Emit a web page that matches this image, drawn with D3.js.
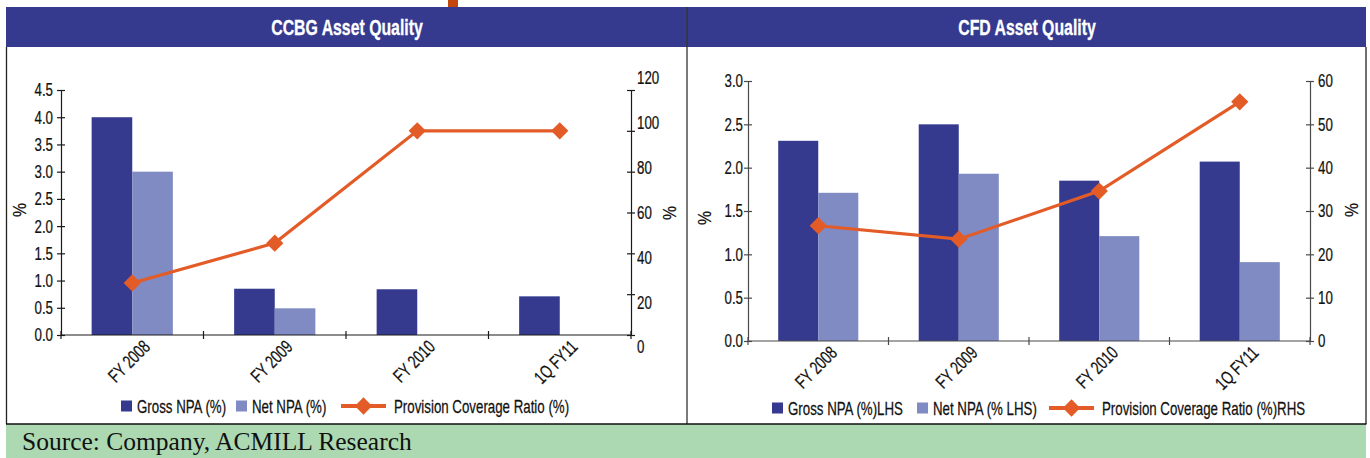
<!DOCTYPE html>
<html>
<head>
<meta charset="utf-8">
<script src="https://cdn.jsdelivr.net/npm/d3@7"></script>
<style>
  html, body { margin: 0; padding: 0; background: #ffffff; }
  svg { display: block; }
</style>
</head>
<body>
<svg id="chart" width="1370" height="458"></svg>
<script>
// Periods shown on both charts
const categories = ["FY 2008", "FY 2009", "FY 2010", "1Q FY11"];

// CCBG asset quality
const ccbgGrossNpa = [4.0, 0.85, 0.84, 0.71];
const ccbgNetNpa = [3.0, 0.49, null, null];
const ccbgCoverage = [25.5, 45, 100, 100];
const ccbgLeftTicks = [0, 0.5, 1, 1.5, 2, 2.5, 3, 3.5, 4, 4.5];
const ccbgRightTicks = [0, 20, 40, 60, 80, 100, 120];

// CFD asset quality
const cfdGrossNpa = [2.31, 2.50, 1.85, 2.07];
const cfdNetNpa = [1.71, 1.93, 1.21, 0.91];
const cfdCoverage = [26.6, 23.5, 34.6, 55.2];
const cfdLeftTicks = [0, 0.5, 1, 1.5, 2, 2.5, 3];
const cfdRightTicks = [0, 10, 20, 30, 40, 50, 60];

const COLORS = {
  navy: "#353a8f",
  gross: "#353a8f",
  net: "#7f8bc2",
  line: "#e35b27",
  green: "#acd9b2",
  tab: "#c4470f"
};
// condensed look: regular sans squeezed horizontally
const FONT = "'Liberation Sans', Arial, sans-serif";
const SX = 0.76;      // legend text
const FS = 17.5;
const TSX = 0.72;     // tick and category text
const TFS = 18.5;

const svg = d3.select("#chart");

// text helper: places a horizontally condensed label
function label(parent, x, y, str, opts = {}) {
  const rot = opts.rotate ? ` rotate(${opts.rotate})` : "";
  const fill = opts.fill || "#111";
  return parent.append("text")
    .attr("transform", `translate(${x},${y})${rot} scale(${opts.sx || SX},1)`)
    .attr("text-anchor", opts.anchor || "start")
    .attr("font-family", FONT)
    .attr("font-weight", opts.weight || "normal")
    .attr("font-size", opts.size || FS)
    .attr("fill", fill)
    .attr("stroke", fill).attr("stroke-width", opts.weight === "bold" ? 0.3 : 0.25)
    .attr("dominant-baseline", opts.baseline || "auto")
    .text(str);
}

// ---- frame: orange tab, title band, borders, source strip ----
svg.append("rect").attr("x", 448).attr("y", 0).attr("width", 10).attr("height", 7).attr("fill", COLORS.tab);
svg.append("rect").attr("x", 6).attr("y", 7).attr("width", 1360).attr("height", 40).attr("fill", COLORS.navy);
svg.append("rect").attr("x", 6).attr("y", 424).attr("width", 1360).attr("height", 34).attr("fill", COLORS.green);

const frame = svg.append("g").attr("stroke-width", 1.3).attr("fill", "none");
frame.append("line").attr("x1", 6.5).attr("x2", 6.5).attr("y1", 47).attr("y2", 424).attr("stroke", "#222");
frame.append("line").attr("x1", 687).attr("x2", 687).attr("y1", 7).attr("y2", 424).attr("stroke", "#333");
frame.append("line").attr("x1", 1366).attr("x2", 1366).attr("y1", 47).attr("y2", 424).attr("stroke", "#222");
frame.append("line").attr("x1", 6).attr("x2", 1366.5).attr("y1", 424).attr("y2", 424).attr("stroke", "#111");

svg.append("text")
  .attr("x", 22).attr("y", 450)
  .attr("font-family", "'Liberation Serif', 'Times New Roman', serif")
  .attr("font-size", 25.5).attr("fill", "#111")
  .text("Source: Company, ACMILL Research");

label(svg, 347, 35, "CCBG Asset Quality", { anchor: "middle", weight: "bold", size: 22, sx: 0.72, fill: "#fff" });
label(svg, 1027, 35, "CFD Asset Quality", { anchor: "middle", weight: "bold", size: 22, sx: 0.72, fill: "#fff" });

// ---- one combined bar + line chart ----
function drawPanel(cfg) {
  const g = svg.append("g");

  const x = d3.scaleBand().domain(categories).range([cfg.x0, cfg.x1]).padding(0);
  const yL = d3.scaleLinear().domain([0, cfg.leftMax]).range([cfg.yBottom, cfg.yTop]);
  const yR = d3.scaleLinear().domain([0, cfg.rightMax]).range([cfg.yBottom, cfg.yTop]);
  const yRLabel = d3.scaleLinear().domain([0, cfg.rightMax]).range(cfg.rightLabelRange || [cfg.yBottom, cfg.yTop]);

  const groupW = x.bandwidth() * 0.57;
  const barW = groupW / 2;

  // bars
  const series = [
    { values: cfg.gross, color: COLORS.gross, i: 0 },
    { values: cfg.net, color: COLORS.net, i: 1 }
  ];
  series.forEach(s => {
    g.append("g").selectAll("rect")
      .data(categories.map((c, k) => ({ c, v: s.values[k] })).filter(d => d.v != null))
      .join("rect")
      .attr("x", d => x(d.c) + x.bandwidth() / 2 - groupW / 2 + s.i * barW)
      .attr("width", barW)
      .attr("y", d => yL(d.v))
      .attr("height", d => yL(0) - yL(d.v))
      .attr("fill", s.color);
  });

  const styleTickText = sel => sel
    .attr("transform", `scale(${TSX},1)`)
    .attr("font-size", TFS).attr("fill", "#111").attr("font-family", FONT)
    .attr("stroke", "#111").attr("stroke-width", 0.25);

  // left axis
  const axL = g.append("g")
    .attr("transform", `translate(${cfg.x0},0)`)
    .call(d3.axisLeft(yL).tickValues(cfg.leftTicks).tickFormat(d3.format(".1f")).tickSizeOuter(0).tickSize(4));
  axL.select(".domain").attr("stroke", cfg.axisColor).attr("stroke-width", 1.2);
  axL.selectAll(".tick line").attr("x1", -4).attr("x2", 4).attr("stroke", cfg.axisColor).attr("stroke-width", 1.2);
  axL.selectAll(".tick text").attr("x", -cfg.leftPad / TSX).call(styleTickText);

  // right axis: tick marks
  const axR = g.append("g")
    .attr("transform", `translate(${cfg.x1},0)`)
    .call(d3.axisRight(yR).tickValues(cfg.rightTicks).tickFormat("").tickSizeOuter(0).tickSize(4));
  axR.select(".domain").attr("stroke", cfg.axisColor).attr("stroke-width", 1.2);
  axR.selectAll(".tick line").attr("x1", -4).attr("x2", 4).attr("stroke", cfg.axisColor).attr("stroke-width", 1.2);

  // right axis: labels
  const axRL = g.append("g")
    .attr("transform", `translate(${cfg.x1},0)`)
    .call(d3.axisRight(yRLabel).tickValues(cfg.rightTicks).tickSize(0));
  axRL.select(".domain").remove();
  axRL.selectAll(".tick text").attr("x", cfg.rightPad / TSX).call(styleTickText);

  // category axis with boundary ticks
  g.append("line")
    .attr("x1", cfg.x0).attr("x2", cfg.x1)
    .attr("y1", yL(0)).attr("y2", yL(0))
    .attr("stroke", cfg.axisColor).attr("stroke-width", 1.2);
  const bounds = categories.map(c => x(c)).concat([cfg.x1]);
  g.append("g").selectAll("line").data(bounds).join("line")
    .attr("x1", d => d).attr("x2", d => d)
    .attr("y1", yL(0) - 4).attr("y2", yL(0) + 4)
    .attr("stroke", cfg.axisColor).attr("stroke-width", 1.2);

  categories.forEach(c => {
    label(g, x(c) + x.bandwidth() / 2 + cfg.labelDx, yL(0) + cfg.labelDy, c,
      { anchor: "end", rotate: -45, size: TFS, sx: TSX });
  });

  // axis titles
  [[cfg.leftTitleX, cfg.leftTitleY], [cfg.rightTitleX, cfg.rightTitleY]].forEach(([tx, ty]) => {
    label(g, tx, ty, "%", { anchor: "middle", rotate: -90, baseline: "central", sx: 0.9 });
  });

  // coverage ratio line
  const pts = categories.map((c, k) => [x(c) + x.bandwidth() / 2, yR(cfg.coverage[k])]);
  g.append("path")
    .attr("d", d3.line()(pts))
    .attr("fill", "none").attr("stroke", COLORS.line).attr("stroke-width", 3.2);
  g.append("g").selectAll("path").data(pts).join("path")
    .attr("transform", d => `translate(${d[0]},${d[1]})`)
    .attr("d", d3.symbol(d3.symbolDiamond2, 190)())
    .attr("fill", COLORS.line);

  // legend
  const leg = g.append("g");
  const ly = cfg.legendY;
  cfg.legend.forEach(item => {
    if (item.type === "box") {
      leg.append("rect").attr("x", item.x).attr("y", ly - 5.5).attr("width", 11).attr("height", 11).attr("fill", item.color);
      label(leg, item.x + 16, ly + 6.5, item.label);
    } else {
      leg.append("line").attr("x1", item.x).attr("x2", item.x + 45).attr("y1", ly).attr("y2", ly)
        .attr("stroke", COLORS.line).attr("stroke-width", 4);
      leg.append("path").attr("transform", `translate(${item.x + 22.5},${ly})`)
        .attr("d", d3.symbol(d3.symbolDiamond2, 190)()).attr("fill", COLORS.line);
      label(leg, item.x + 53, ly + 6.5, item.label);
    }
  });
}

drawPanel({
  x0: 61, x1: 631, yBottom: 335, yTop: 90,
  leftMax: 4.5, rightMax: 120,
  leftTicks: ccbgLeftTicks, rightTicks: ccbgRightTicks,
  rightLabelRange: [347, 78],
  leftPad: 8, rightPad: 6,
  axisColor: "#1a1a1a",
  gross: ccbgGrossNpa, net: ccbgNetNpa, coverage: ccbgCoverage,
  labelDx: 19, labelDy: 13,
  leftTitleX: 20, leftTitleY: 210, rightTitleX: 670, rightTitleY: 213,
  legendY: 406,
  legend: [
    { type: "box", x: 121, color: COLORS.gross, label: "Gross NPA (%)" },
    { type: "box", x: 236, color: COLORS.net, label: "Net NPA (%)" },
    { type: "line", x: 341, label: "Provision Coverage Ratio (%)" }
  ]
});

drawPanel({
  x0: 748, x1: 1310, yBottom: 341, yTop: 81,
  leftMax: 3, rightMax: 60,
  leftTicks: cfdLeftTicks, rightTicks: cfdRightTicks,
  leftPad: 5, rightPad: 8,
  axisColor: "#4a4a4a",
  gross: cfdGrossNpa, net: cfdNetNpa, coverage: cfdCoverage,
  labelDx: 20, labelDy: 13,
  leftTitleX: 705, leftTitleY: 218, rightTitleX: 1352, rightTitleY: 210,
  legendY: 408,
  legend: [
    { type: "box", x: 772, color: COLORS.gross, label: "Gross NPA (%)LHS" },
    { type: "box", x: 917, color: COLORS.net, label: "Net NPA (% LHS)" },
    { type: "line", x: 1049, label: "Provision Coverage Ratio (%)RHS" }
  ]
});
</script>
</body>
</html>
